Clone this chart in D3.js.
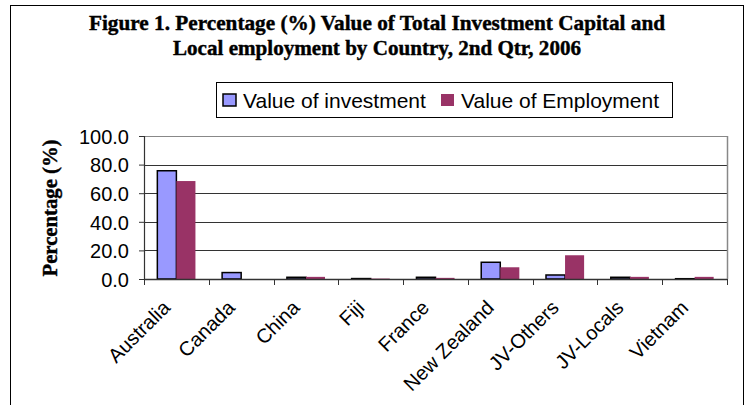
<!DOCTYPE html>
<html>
<head>
<meta charset="utf-8">
<script src="https://cdn.jsdelivr.net/npm/d3@7"></script>
<style>
  body { margin: 0; background: #fff; }
  svg { display: block; }
</style>
</head>
<body>
<div id="chart-container"></div>
<script>
var countries = ["Australia", "Canada", "China", "Fiji", "France", "New Zealand", "JV-Others", "JV-Locals", "Vietnam"];
var investment = [75.7, 4.5, 1.2, 0.3, 1.2, 11.7, 2.8, 1.2, 0.2];
var employment = [68.5, 0.0, 1.5, 0.3, 0.8, 8.2, 16.6, 1.5, 1.5];
var seriesNames = ["Value of investment", "Value of Employment"];
var yTicks = [0, 20, 40, 60, 80, 100];

var colors = { investment: "#9999FF", employment: "#993366" };
var sans = "'Liberation Sans', Arial, sans-serif";
var serif = "'Liberation Serif', 'Times New Roman', serif";

var svg = d3.select("#chart-container")
    .append("svg")
    .attr("width", 749)
    .attr("height", 405);

// outer chart border
svg.append("rect")
    .attr("x", 10.5).attr("y", 5.5)
    .attr("width", 733).attr("height", 420)
    .attr("fill", "#fff")
    .attr("stroke", "#000")
    .attr("stroke-width", 1);

// title
var titleLines = [
    "Figure 1. Percentage (%) Value of Total Investment Capital and",
    "Local employment by Country, 2nd Qtr, 2006"
];
var titleWidths = [576, 408];
svg.selectAll(".title")
    .data(titleLines)
    .enter()
    .append("text")
    .attr("class", "title")
    .attr("x", 377)
    .attr("y", function (d, i) { return 30 + i * 25; })
    .attr("text-anchor", "middle")
    .attr("textLength", function (d, i) { return titleWidths[i]; })
    .attr("lengthAdjust", "spacingAndGlyphs")
    .style("font-family", serif)
    .style("font-weight", "bold")
    .style("font-size", "20px")
    .style("stroke", "#000")
    .style("stroke-width", 0.4)
    .text(function (d) { return d; });

var margin = { top: 136, left: 144 },
    width = 583,
    height = 143;

var chart = svg.append("g")
    .attr("transform", "translate(" + margin.left + ", " + margin.top + ")");

var xScale = d3.scaleBand()
    .domain(countries)
    .range([0, width]);

var inner = d3.scaleBand()
    .domain(["investment", "employment"])
    .range([0, xScale.bandwidth()])
    .paddingOuter(0.7)
    .paddingInner(0);

var yScale = d3.scaleLinear()
    .domain([0, 100])
    .range([height, 0]);

// gridlines
chart.selectAll(".grid")
    .data(yTicks.slice(1))
    .enter()
    .append("line")
    .attr("x1", 0).attr("x2", width)
    .attr("y1", function (d) { return Math.round(yScale(d)) + 0.5; })
    .attr("y2", function (d) { return Math.round(yScale(d)) + 0.5; })
    .attr("stroke", function (d) { return d === 100 ? "#888" : "#333"; })
    .attr("stroke-width", 1.2);

// right border of plot area
chart.append("line")
    .attr("x1", width + 0.5).attr("x2", width + 0.5)
    .attr("y1", 0).attr("y2", height)
    .attr("stroke", "#888")
    .attr("stroke-width", 1.5);

var rows = countries.map(function (c, i) {
    return { country: c, investment: investment[i], employment: employment[i] };
});

var groups = chart.selectAll(".group")
    .data(rows)
    .enter()
    .append("g")
    .attr("transform", function (d) { return "translate(" + xScale(d.country) + ",0)"; });

groups.append("rect")
    .attr("x", inner("investment"))
    .attr("width", inner.bandwidth())
    .attr("y", function (d) { return yScale(d.investment); })
    .attr("height", function (d) { return height - yScale(d.investment); })
    .attr("fill", colors.investment)
    .attr("stroke", "#000")
    .attr("stroke-width", 1.5);

groups.append("rect")
    .attr("x", inner("employment"))
    .attr("width", inner.bandwidth())
    .attr("y", function (d) { return yScale(d.employment); })
    .attr("height", function (d) { return height - yScale(d.employment); })
    .attr("fill", colors.employment);

// y axis
var yAxis = d3.axisLeft(yScale)
    .tickValues(yTicks)
    .tickSize(5)
    .tickFormat(d3.format(".1f"));

var yG = chart.append("g").call(yAxis);
yG.select(".domain").attr("stroke", "#333").attr("stroke-width", 1.2);
yG.selectAll(".tick line").attr("stroke", "#333");
yG.selectAll("text")
    .attr("x", -15)
    .attr("dy", "0.36em")
    .style("font-family", sans)
    .style("font-size", "20px")
    .attr("fill", "#000");

// x axis: ticks at category boundaries
var xAxisG = chart.append("g")
    .attr("transform", "translate(0," + height + ")");
xAxisG.append("line")
    .attr("x1", 0).attr("x2", width)
    .attr("y1", 0.5).attr("y2", 0.5)
    .attr("stroke", "#333")
    .attr("stroke-width", 1.5);
xAxisG.selectAll(".xtick")
    .data(d3.range(countries.length + 1))
    .enter()
    .append("line")
    .attr("x1", function (i) { return Math.round(i * xScale.step()) + 0.5; })
    .attr("x2", function (i) { return Math.round(i * xScale.step()) + 0.5; })
    .attr("y1", 0).attr("y2", 6)
    .attr("stroke", "#333");

xAxisG.selectAll(".xlabel")
    .data(countries)
    .enter()
    .append("text")
    .attr("transform", function (d) {
        return "translate(" + (xScale(d) + xScale.bandwidth() / 2 - 15) + ",20) rotate(-45)";
    })
    .attr("text-anchor", "end")
    .attr("dy", "0.7em")
    .style("font-family", sans)
    .style("font-size", "20px")
    .text(function (d) { return d; });

// y axis title
svg.append("text")
    .attr("transform", "translate(57,208) rotate(-90)")
    .attr("text-anchor", "middle")
    .attr("textLength", 137)
    .attr("lengthAdjust", "spacingAndGlyphs")
    .style("font-family", serif)
    .style("font-weight", "bold")
    .style("font-size", "21px")
    .style("stroke", "#000")
    .style("stroke-width", 0.4)
    .text("Percentage (%)");

// legend
var legend = svg.append("g").attr("transform", "translate(216,82)");
legend.append("rect")
    .attr("x", 0.5).attr("y", 0.5)
    .attr("width", 456).attr("height", 35)
    .attr("fill", "#fff")
    .attr("stroke", "#000");

var legendX = [7, 225];
var legendItems = legend.selectAll(".item")
    .data(seriesNames)
    .enter()
    .append("g")
    .attr("transform", function (d, i) { return "translate(" + legendX[i] + ",0)"; });

legendItems.append("rect")
    .attr("x", 0).attr("y", 12)
    .attr("width", 13).attr("height", 12)
    .attr("fill", function (d, i) { return i === 0 ? colors.investment : colors.employment; })
    .attr("stroke", function (d, i) { return i === 0 ? "#000" : "none"; })
    .attr("stroke-width", 1.5);

legendItems.append("text")
    .attr("x", 20)
    .attr("y", 26)
    .style("font-family", sans)
    .style("font-size", "21px")
    .text(function (d) { return d; });
</script>
</body>
</html>
